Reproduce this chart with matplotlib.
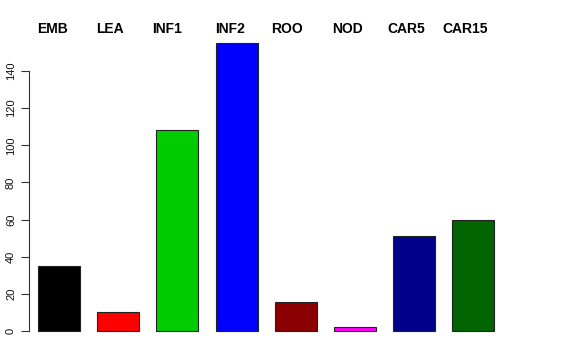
import matplotlib
matplotlib.use("Agg")
import matplotlib.pyplot as plt

categories = ["EMB", "LEA", "INF1", "INF2", "ROO", "NOD", "CAR5", "CAR15"]
values = [35, 10, 108, 155, 15.5, 2, 51, 60]
colors = ["#000000", "#FF0000", "#00CD00", "#0000FF", "#8B0000", "#FF00FF", "#00008B", "#006400"]
yticks = [0, 20, 40, 60, 80, 100, 120, 140]

W, H = 576, 360
fig = plt.figure(figsize=(W / 100, H / 100), dpi=100)
plt.rcParams['font.family'] = ['Liberation Sans', 'DejaVu Sans']

# pixel geometry
ax_l, ax_r, ax_t, ax_b = 28.5, 505, 31, 342
ax = fig.add_axes([ax_l / W, 1 - ax_b / H, (ax_r - ax_l) / W, (ax_b - ax_t) / H])
c0, step = 59.0, 59.2
y0, ppu = 331.0, 1.857
ax.set_xlim((ax_l - c0) / step, (ax_r - c0) / step)
ax.set_ylim(-(ax_b - y0) / ppu, (y0 - ax_t) / ppu)

x = list(range(len(categories)))
ax.bar(x, values, width=42 / step, color=colors, edgecolor="#222222", linewidth=0.8)

for s in ["top", "right", "bottom"]:
    ax.spines[s].set_visible(False)
ax.spines["left"].set_bounds(0, 140)
ax.spines["left"].set_linewidth(0.8)
ax.spines["left"].set_color("#333333")
ax.set_yticks(yticks)
ax.set_yticklabels([str(v) for v in yticks], rotation=90, va="center", fontsize=8, color="#111111")
ax.tick_params(axis="y", length=6, width=0.8, pad=3, color="#333333")
ax.set_xticks([])

# top labels (figure pixel centers)
label_px = [52, 109.5, 167.5, 230, 287, 347.5, 406, 465.5]
for lab, px in zip(categories, label_px):
    fig.text(px / W, 1 - 29 / H, lab, ha="center", va="center", fontsize=10, fontweight="bold")

fig.savefig("out.png", dpi=100)
